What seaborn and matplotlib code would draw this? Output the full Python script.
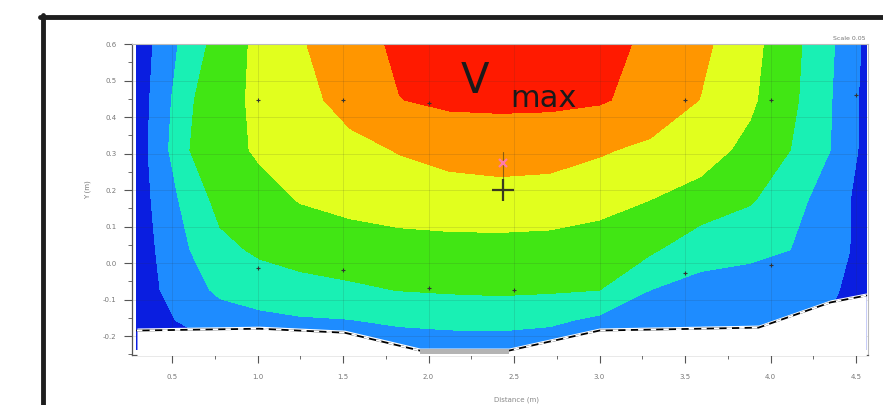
import numpy as np
import matplotlib
matplotlib.use("Agg")
import matplotlib.pyplot as plt
import seaborn as sns
from matplotlib.ticker import MultipleLocator, FixedLocator
from matplotlib.lines import Line2D

# ---- data ----
x_grid = [0.295, 0.43, 0.605, 0.78, 1.015, 1.25, 1.54, 1.83, 2.125, 2.42,
          2.71, 3.0, 3.295, 3.59, 3.88, 4.115, 4.35, 4.56]
y_grid = [0.6, 0.447, 0.31, 0.173, 0.036, -0.074, -0.156, -0.238]

v_y060 = [0.4, 1.28, 2.48, 3.4, 4.25, 4.92, 5.53, 6.2, 6.6, 6.8, 6.7, 6.35, 5.8, 5.23, 4.33, 3.34, 2.16, 0.8]
v_y045 = [0.45, 1.45, 2.9, 3.58, 4.24, 4.7, 5.33, 5.98, 6.2, 6.22, 6.2, 6.1, 5.67, 4.98, 4.17, 3.25, 2.06, 0.7]
v_y031 = [0.45, 1.6, 3.0, 3.6, 4.15, 4.4, 4.75, 5.05, 5.3, 5.4, 5.35, 5.1, 4.8, 4.4, 3.75, 3.0, 2.0, 0.7]
v_y017 = [0.45, 1.35, 2.4, 3.3, 3.65, 4.05, 4.3, 4.5, 4.6, 4.65, 4.6, 4.4, 4.0, 3.65, 3.1, 2.4, 1.5, 0.6]
v_y004 = [0.4, 1.15, 2.0, 2.75, 3.15, 3.35, 3.5, 3.6, 3.65, 3.65, 3.6, 3.4, 3.15, 2.35, 2.2, 2.0, 1.6, 0.5]
v_ym007 = [0.3, 1.0, 1.6, 2.2, 2.5, 2.7, 2.85, 3.02, 3.1, 3.15, 3.1, 3.0, 2.0, 1.7, 1.6, 1.4, 1.2, 0.4]
v_ym016 = [0.2, 0.8, 1.2, 1.5, 1.75, 1.9, 1.98, 2.2, 2.3, 2.35, 2.2, 1.8, 1.5, 1.4, 1.3, 1.2, 0.9, 0.2]
v_ym024 = [0.0, 0.2, 0.5, 0.8, 1.0, 1.1, 1.2, 1.3, 1.4, 1.4, 1.3, 1.2, 1.1, 1.0, 0.9, 0.7, 0.3, 0.0]

levels = [0, 1, 2, 3, 4, 5, 6, 7.5]
band_colors = ["#0a1ee0", "#1e8cff", "#19f0b4", "#41e614", "#e1ff1e", "#ff9600", "#ff1a00"]

bed_x = [0.295, 1.01, 1.51, 1.95, 2.47, 3.0, 3.93, 4.35, 4.56]
bed_y = [-0.178, -0.173, -0.184, -0.233, -0.233, -0.178, -0.170, -0.101, -0.082]

pts_x = [1.0, 1.5, 2.0, 3.5, 4.0, 4.5, 1.0, 1.5, 2.0, 2.5, 3.5, 4.0]
pts_y = [0.447, 0.447, 0.44, 0.447, 0.447, 0.46, -0.014, -0.019, -0.068, -0.074, -0.027, -0.005]

vmax_x, vmax_y = 2.436, 0.2
pink_x, pink_y = 2.436, 0.274

x_ticks = [0.5, 1.0, 1.5, 2.0, 2.5, 3.0, 3.5, 4.0, 4.5]
y_ticks = [-0.2, -0.1, 0.0, 0.1, 0.2, 0.3, 0.4, 0.5, 0.6]

# ---- drawing ----
sns.set_theme(style="white")
plt.rcParams["font.family"] = ["DejaVu Sans"]

fig = plt.figure(figsize=(8.83, 4.05), dpi=100)
ax = fig.add_axes([0.1495, 0.1235, 0.8335, 0.7675])

X, Y = np.meshgrid(np.array(x_grid), np.array(y_grid))
Z = np.array([v_y060, v_y045, v_y031, v_y017, v_y004, v_ym007, v_ym016, v_ym024])
ax.contourf(X, Y, Z, levels=levels, colors=band_colors, zorder=1)

# mask below the bed
ax.fill_between(bed_x, bed_y, -0.3, color="white", zorder=3, lw=0)
by = np.array(bed_y) - 0.007
ax.plot(bed_x, by, color="black", lw=1.3, zorder=4)
ax.plot(bed_x, by, color="white", lw=1.3, ls=(0, (3, 4)), zorder=5)
ax.fill_between([bed_x[3], bed_x[4]], [bed_y[3] - 0.003] * 2, [bed_y[3] - 0.016] * 2,
                color="#b4b4b4", zorder=6, lw=0)

# grid lines
for xv in x_ticks:
    ax.axvline(xv, color="#333333", lw=0.5, alpha=0.18, zorder=2)
for yv in y_ticks:
    ax.axhline(yv, color="#333333", lw=0.5, alpha=0.18, zorder=2)

# measurement points
sns.scatterplot(x=pts_x, y=pts_y, marker="+", color="#333333", s=12, linewidth=0.8, ax=ax, zorder=6)
ax.plot([vmax_x], [vmax_y], marker="+", ms=16, mew=1.6, color="#3a3a20", zorder=7)
ax.plot([vmax_x, vmax_x], [vmax_y, pink_y + 0.03], color="#3a3a20", lw=0.8, alpha=0.6, zorder=6)
ax.plot([pink_x], [pink_y], marker="x", ms=6, mew=1.6, color="#ff7aa8", zorder=7)

ax.text(2.27, 0.50, "V", fontsize=30, color="#1a1a1a", va="center", ha="center", zorder=8)
ax.text(2.67, 0.45, "max", fontsize=22, color="#1a1a1a", va="center", ha="center", zorder=8)

ax.set_xlim(0.266, 4.57)
ax.set_ylim(-0.252, 0.6)

ax.xaxis.set_major_locator(FixedLocator(x_ticks))
ax.yaxis.set_major_locator(FixedLocator(y_ticks))
ax.xaxis.set_minor_locator(MultipleLocator(0.25))
ax.yaxis.set_minor_locator(MultipleLocator(0.05))
ax.set_xticklabels([f"{v:.1f}" for v in x_ticks])
ax.set_yticklabels([f"{v:.1f}" for v in y_ticks])
ax.tick_params(axis="both", which="major", direction="out", length=6, width=0.8,
               color="#555555", labelsize=5, labelcolor="#777777", bottom=True, left=True)
ax.tick_params(axis="x", which="major", pad=8)
ax.tick_params(axis="y", which="major", pad=5)
ax.tick_params(axis="both", which="minor", direction="out", length=3, width=0.6,
               color="#555555", bottom=True, left=True)

for side in ["left", "bottom"]:
    ax.spines[side].set_color("#555555")
    ax.spines[side].set_linewidth(0.9)
for side in ["top", "right"]:
    ax.spines[side].set_color("#bbbbbb")
    ax.spines[side].set_linewidth(0.8)

fig.text(88 / 883, 1 - 190 / 405, "Y (m)", rotation=90, fontsize=5, color="#777777",
         ha="center", va="center")
fig.text(0.585, 0.004, "Distance (m)", fontsize=5, color="#888888", ha="center", va="bottom")
fig.text(0.962, 0.905, "Scale 0.05", fontsize=4.5, color="#777777", ha="center", va="center")

# screenshot frame
fig.add_artist(Line2D([0.045, 1.0], [0.958, 0.958], transform=fig.transFigure,
                      color="#1e1e1e", lw=3.5))
fig.add_artist(Line2D([0.0487, 0.0487], [0.0, 0.962], transform=fig.transFigure,
                      color="#1e1e1e", lw=3.5))

fig.savefig("out.png", dpi=100)
